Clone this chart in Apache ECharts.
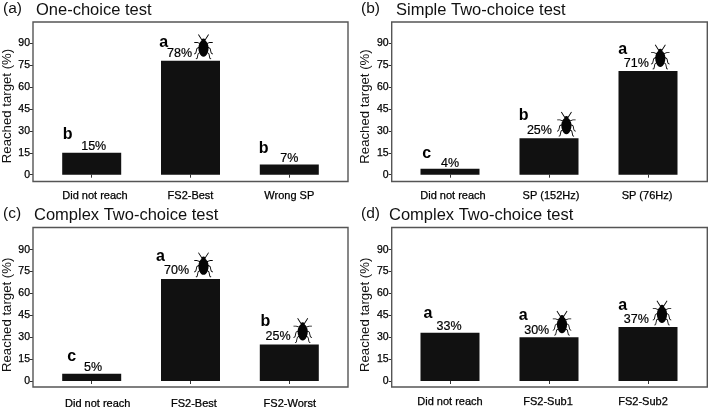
<!DOCTYPE html>
<html><head><meta charset="utf-8">
<script src="https://cdn.jsdelivr.net/npm/echarts@6/dist/echarts.min.js"></script>
<style>html,body{margin:0;padding:0;background:#fff}#c{width:709px;height:407px}</style>
</head><body><div id="c"></div>
<script>
// --- data ---
const tags = ['(a)', '(b)', '(c)', '(d)'];
const titles = ['One-choice test', 'Simple Two-choice test', 'Complex Two-choice test', 'Complex Two-choice test'];
const catsA = ['Did not reach', 'FS2-Best', 'Wrong SP'];
const catsB = ['Did not reach', 'SP (152Hz)', 'SP (76Hz)'];
const catsC = ['Did not reach', 'FS2-Best', 'FS2-Worst'];
const catsD = ['Did not reach', 'FS2-Sub1', 'FS2-Sub2'];
const valsA = [15, 78, 7];
const valsB = [4, 25, 71];
const valsC = [5, 70, 25];
const valsD = [33, 30, 37];
const lettersA = ['b', 'a', 'b'];
const lettersB = ['c', 'b', 'a'];
const lettersC = ['c', 'a', 'b'];
const lettersD = ['a', 'a', 'a'];
const insectA = [false, true, false];
const insectB = [false, true, true];
const insectC = [false, true, true];
const insectD = [false, true, true];
const yTicks = [0, 15, 30, 45, 60, 75, 90];
const yLabel = 'Reached target (%)';

// --- layout (pixels) ---
const layout = [
 {fx:33, fy:22, fw:315, fh:159.5, c0:91.7, sp:98.8, y0:174.7, y90:43.3, tagX:3, tagY:10, titX:36, titY:10.5, nameShift:6, nameX:26.5, xMargin:8.5,
  pct:[[2,7],[-11,7.4],[0,6.3]], let:[[-24,18.7],[-26.7,18.7],[-25.7,16.3]], ins:[0,13,0], cat:[3.3,0,0]},
 {fx:391.7, fy:22, fw:315.6, fh:159.5, c0:450, sp:99, y0:174.7, y90:43.3, tagX:361, tagY:10, titX:396, titY:10.5, nameShift:5, nameX:27, xMargin:8.5,
  pct:[[0,5.7],[-9.6,8.3],[-11.7,8]], let:[[-23.3,15],[-25.3,22.7],[-25.3,21]], ins:[0,17.4,12.3], cat:[3,2,-1]},
 {fx:33, fy:227.5, fw:315, fh:159.5, c0:91.7, sp:98.8, y0:381, y90:249.7, tagX:3, tagY:215, titX:34, titY:215.5, nameShift:1, nameX:26.5, xMargin:11.5,
  pct:[[1.3,6.7],[-14,8.7],[-11.3,8.3]], let:[[-20,16.7],[-30,22.3],[-24,22.7]], ins:[0,13,13.4], cat:[6,3.4,0.5]},
 {fx:391.7, fy:227.5, fw:315.6, fh:159.5, c0:450, sp:99, y0:381, y90:249.7, tagX:361, tagY:215, titX:389, titY:215.5, nameShift:1, nameX:27, xMargin:9,
  pct:[[-1,7.3],[-12.3,6.7],[-11.7,7.7]], let:[[-22,19.3],[-25.7,21.7],[-25.3,21]], ins:[0,13,14], cat:[0,-1,-5]}
];

// --- insect glyph, built from a body, head and thin limbs ---
function limb(pts, w) {
  let d = '';
  for (let i = 0; i < pts.length - 1; i++) {
    const [a, b] = pts[i], [c, e] = pts[i + 1];
    const l = Math.hypot(c - a, e - b), nx = -(e - b) / l * w / 2, ny = (c - a) / l * w / 2;
    d += `M${a + nx} ${b + ny}L${c + nx} ${e + ny}L${c - nx} ${e - ny}L${a - nx} ${b - ny}Z`;
  }
  return d;
}
function insectPath() {
  const halves = [
    [[25,18],[14,0]],
    [[20,30],[10,26],[1,26]],
    [[17,40],[9,46],[6,60],[1,64]],
    [[19,58],[13,63],[10,78],[6,80]]
  ];
  let d = 'M30 19C22 19 20 24 17 29C13 37 13 52 17 60C20 68 25 73 30 73C35 73 40 68 43 60C47 52 47 37 43 29C40 24 38 19 30 19Z';
  d += 'M30 13C25 13 23 17 23 22L37 22C37 17 35 13 30 13Z';
  halves.forEach(h => {
    d += limb(h, 2.8);
    d += limb(h.map(([x, y]) => [60 - x, y]), 2.8);
  });
  return 'path://' + d;
}
const insect = insectPath();

const cats = [catsA, catsB, catsC, catsD];
const vals = [valsA, valsB, valsC, valsD];
const letters = [lettersA, lettersB, lettersC, lettersD];
const insects = [insectA, insectB, insectC, insectD];

const grid = [], xAxis = [], yAxis = [], series = [], title = [], graphic = [];
const FONT = '"Liberation Sans", Arial, sans-serif';

layout.forEach((p, i) => {
  grid.push({left: p.c0 - p.sp / 2, width: p.sp * 3, top: p.y90, height: p.y0 - p.y90, outerBoundsMode: 'none', containLabel: false});
  xAxis.push({
    type: 'category', gridIndex: i,
    data: cats[i].map((c, k) => {
      const s = p.cat[k] * 2;
      return {value: c, textStyle: {padding: s >= 0 ? [0, 0, 0, s] : [0, -s, 0, 0]}};
    }),
    offset: p.fy + p.fh - p.y0,
    axisLine: {show: false},
    axisTick: {show: true, alignWithLabel: true, length: 3, lineStyle: {color: '#333', width: 1}},
    axisLabel: {color: '#000', fontFamily: FONT, fontSize: 11, margin: p.xMargin, interval: 0, textBorderColor: '#000', textBorderWidth: 0.25}
  });
  yAxis.push({
    type: 'value', gridIndex: i, min: 0, max: 90, interval: 15,
    offset: p.c0 - p.sp / 2 - p.fx,
    name: yLabel, nameLocation: 'middle', nameGap: p.nameX - 7,
    nameTextStyle: {color: '#111', fontFamily: FONT, fontSize: 13.2, padding: [0, 0, 0, p.nameShift]},
    splitLine: {show: false},
    axisLine: {show: false},
    axisTick: {show: true, length: 3, lineStyle: {color: '#333', width: 1}, customValues: yTicks},
    axisLabel: {color: '#000', fontFamily: FONT, fontSize: 10.5, margin: 3, customValues: yTicks, textBorderColor: '#000', textBorderWidth: 0.25}
  });
  series.push({
    type: 'bar', xAxisIndex: i, yAxisIndex: i, barWidth: 59, silent: true, z: 3,
    itemStyle: {color: '#111111'},
    data: vals[i].map((v, k) => ({
      value: v,
      label: {show: true, position: 'top', distance: 0, formatter: v + '%', color: '#000',
        fontFamily: FONT, fontSize: 12.5, textBorderColor: '#000', textBorderWidth: 0.2, offset: [p.pct[k][0], 7 - p.pct[k][1]]}
    }))
  });
  series.push({
    type: 'scatter', xAxisIndex: i, yAxisIndex: i, symbol: 'circle', symbolSize: 0, silent: true, z: 4,
    itemStyle: {opacity: 1},
    data: vals[i].map((v, k) => ({
      value: [k, v],
      label: {show: true, position: 'inside', formatter: letters[i][k], color: '#000',
        fontFamily: FONT, fontSize: 16, fontWeight: 'bold', offset: [p.let[k][0], -p.let[k][1]]}
    }))
  });
  series.push({
    type: 'scatter', xAxisIndex: i, yAxisIndex: i, silent: true, z: 5,
    symbol: insect, symbolSize: [19, 25], itemStyle: {color: '#050505', opacity: 1},
    data: vals[i].map((v, k) => insects[i][k] ? {
      value: [k, v], symbolOffset: [p.ins[k], -14]
    } : null).filter(Boolean)
  });
  title.push({text: tags[i], left: p.tagX, top: p.tagY - 9, padding: 0,
    textStyle: {color: '#111', fontFamily: FONT, fontSize: 15.5, fontWeight: 'normal'}});
  title.push({text: titles[i], left: p.titX, top: p.titY - 9, padding: 0,
    textStyle: {color: '#111', fontFamily: FONT, fontSize: 16.5, fontWeight: 'normal'}});
  graphic.push({type: 'rect', silent: true, z: 1,
    shape: {x: p.fx, y: p.fy, width: p.fw, height: p.fh},
    style: {fill: 'none', stroke: '#555', lineWidth: 1.4}});
});

const chart = echarts.init(document.getElementById('c'), null, {renderer: 'canvas'});
chart.setOption({animation: false, backgroundColor: '#fff', title, grid, xAxis, yAxis, series, graphic});
</script></body></html>
